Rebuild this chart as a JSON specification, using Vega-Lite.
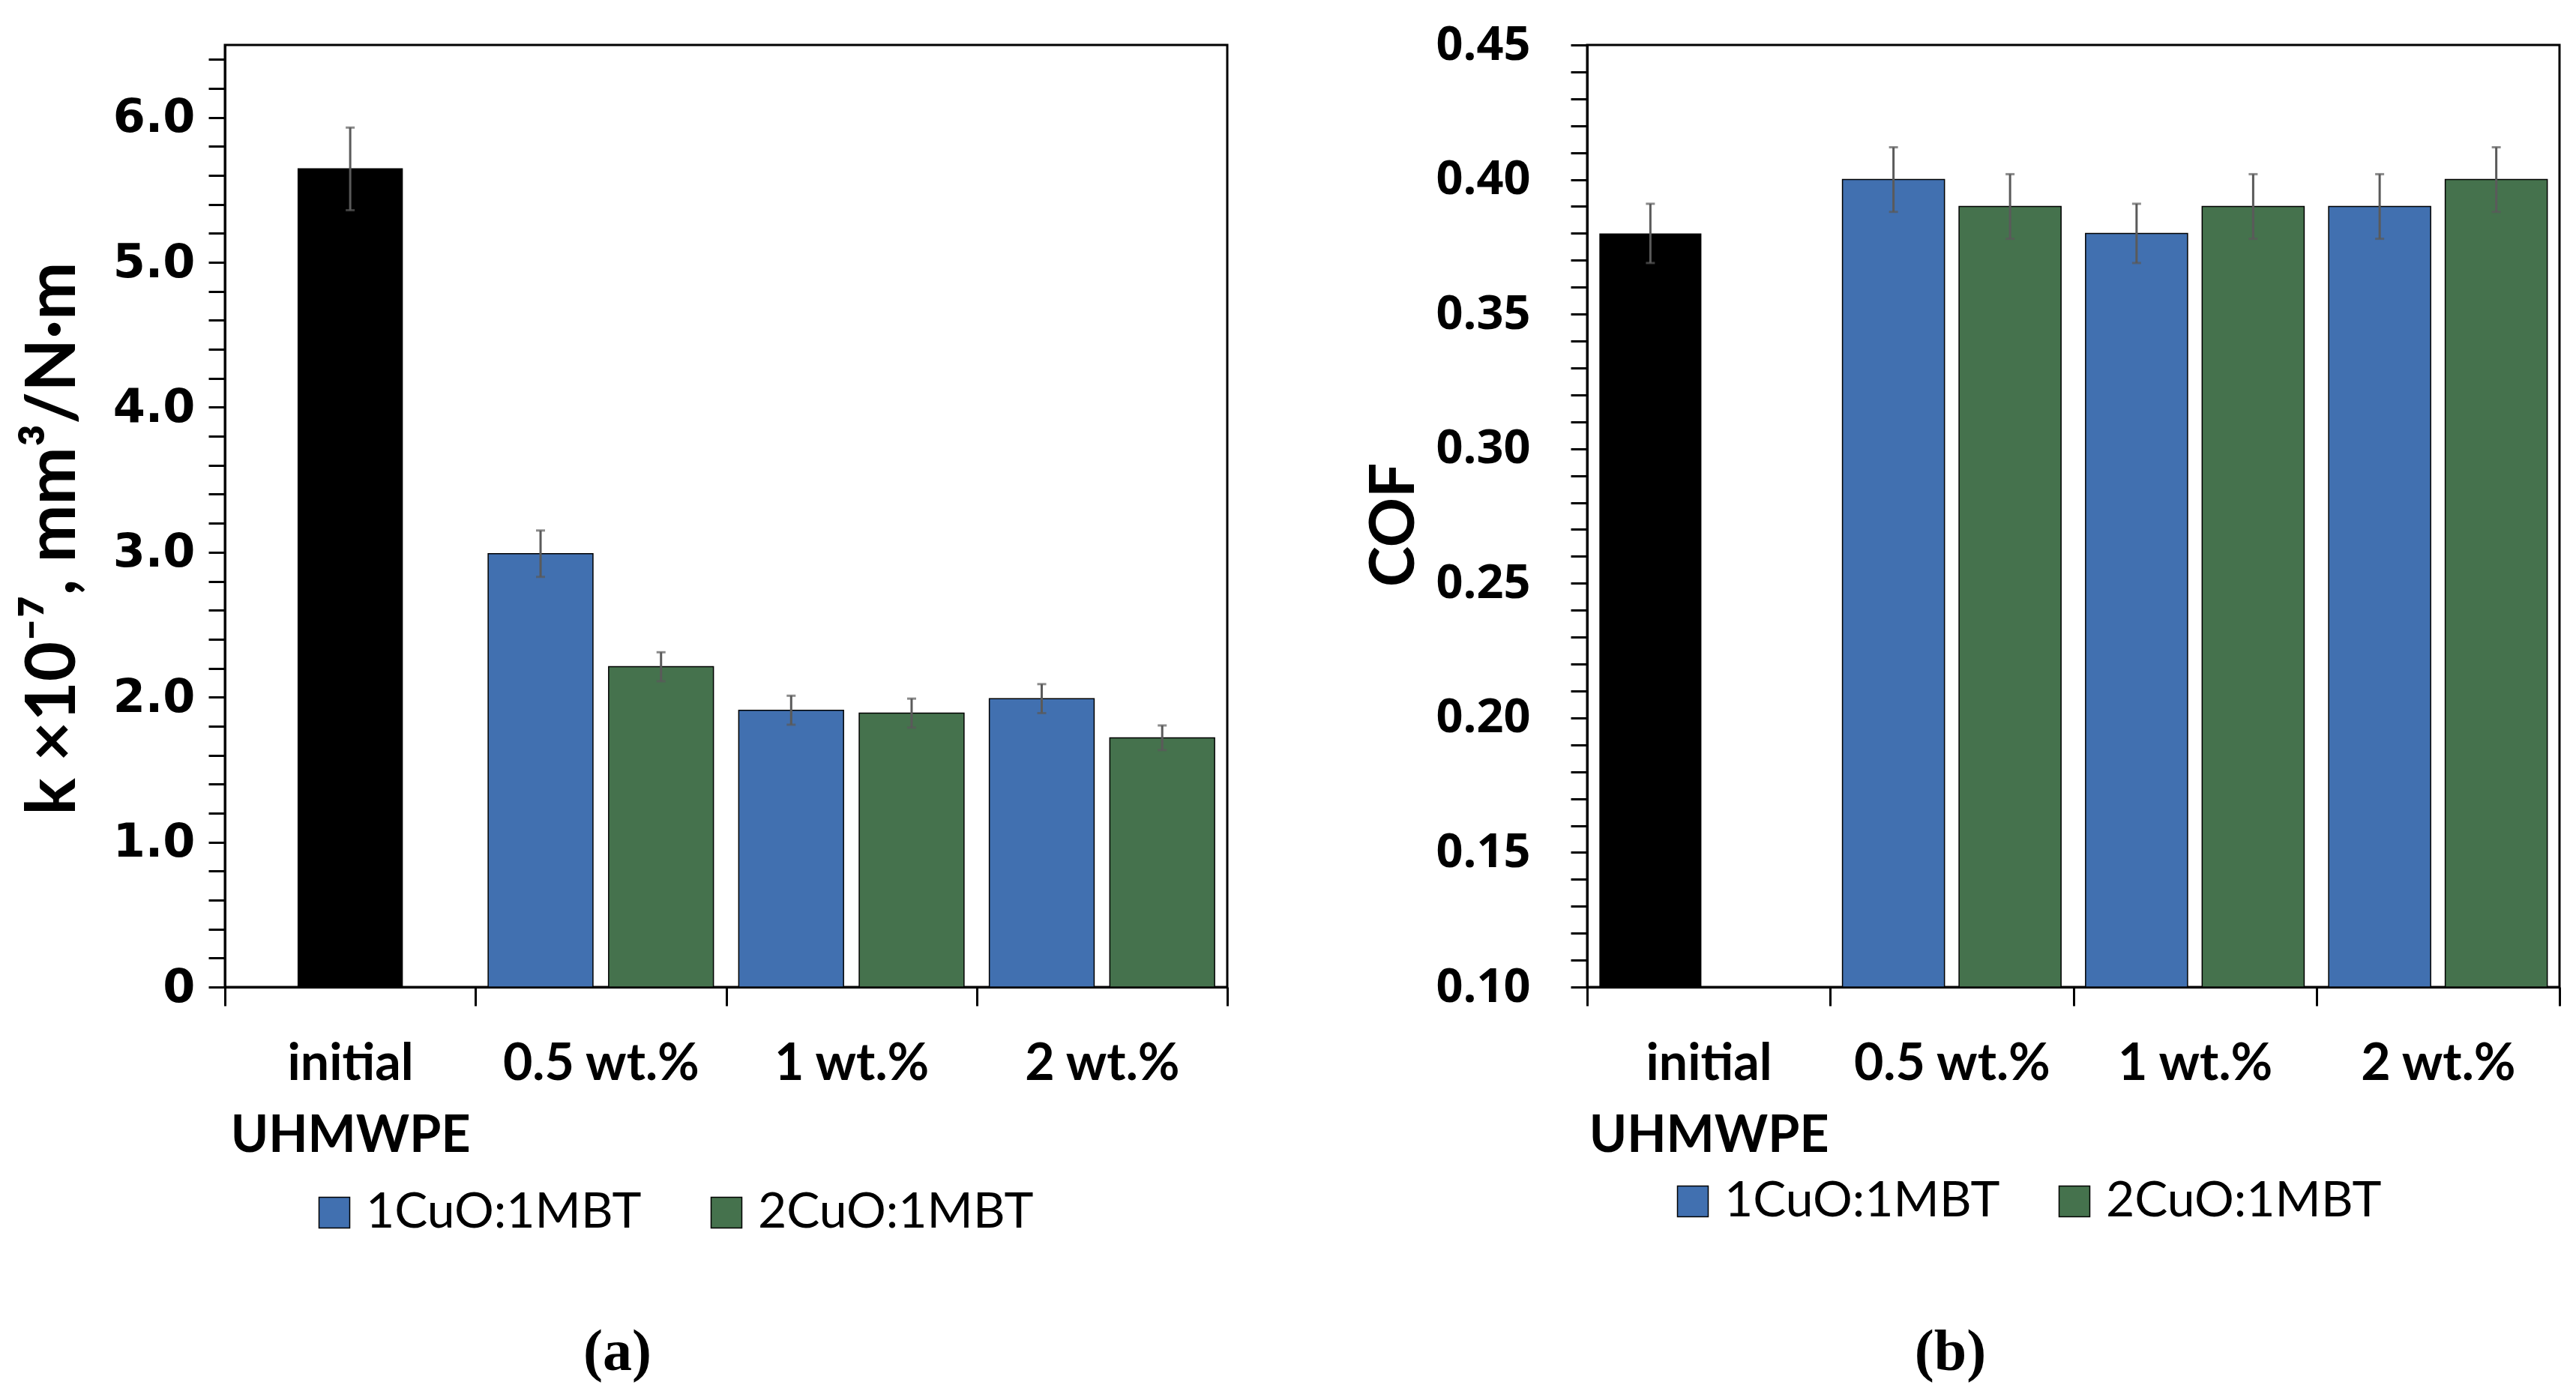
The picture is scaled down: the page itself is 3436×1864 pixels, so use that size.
{
  "$schema": "https://vega.github.io/schema/vega-lite/v6.json",
  "background": "white",
  "padding": {"left": 23, "top": 27, "right": 5, "bottom": 5},
  "bounds": "flush",
  "spacing": 480,
  "config": {
    "view": {"stroke": "black", "strokeWidth": 3},
    "axis": {"domainColor": "black", "domainWidth": 3, "tickColor": "black", "tickWidth": 3, "grid": false, "labelColor": "black", "titleColor": "black", "labelOverlap": false}
  },
  "datasets": {
    "wear": [
      {"cat": "initial UHMWPE", "series": "initial", "value": 5.65, "lo": 5.36, "hi": 5.93},
      {"cat": "0.5 wt.%", "series": "1CuO:1MBT", "value": 2.99, "lo": 2.83, "hi": 3.15},
      {"cat": "0.5 wt.%", "series": "2CuO:1MBT", "value": 2.21, "lo": 2.11, "hi": 2.31},
      {"cat": "1 wt.%", "series": "1CuO:1MBT", "value": 1.91, "lo": 1.81, "hi": 2.01},
      {"cat": "1 wt.%", "series": "2CuO:1MBT", "value": 1.89, "lo": 1.79, "hi": 1.99},
      {"cat": "2 wt.%", "series": "1CuO:1MBT", "value": 1.99, "lo": 1.89, "hi": 2.09},
      {"cat": "2 wt.%", "series": "2CuO:1MBT", "value": 1.72, "lo": 1.635, "hi": 1.805}
    ],
    "cof": [
      {"cat": "initial UHMWPE", "series": "initial", "value": 0.38, "lo": 0.369, "hi": 0.391},
      {"cat": "0.5 wt.%", "series": "1CuO:1MBT", "value": 0.40, "lo": 0.388, "hi": 0.412},
      {"cat": "0.5 wt.%", "series": "2CuO:1MBT", "value": 0.39, "lo": 0.378, "hi": 0.402},
      {"cat": "1 wt.%", "series": "1CuO:1MBT", "value": 0.38, "lo": 0.369, "hi": 0.391},
      {"cat": "1 wt.%", "series": "2CuO:1MBT", "value": 0.39, "lo": 0.378, "hi": 0.402},
      {"cat": "2 wt.%", "series": "1CuO:1MBT", "value": 0.39, "lo": 0.378, "hi": 0.402},
      {"cat": "2 wt.%", "series": "2CuO:1MBT", "value": 0.40, "lo": 0.388, "hi": 0.412}
    ]
  },
  "resolve": {"scale": {"x": "independent", "y": "independent", "color": "independent", "xOffset": "independent"}},
  "hconcat": [
    {
      "width": 1337,
      "height": 1257,
      "data": {"name": "wear"},
      "layer": [
        {
          "transform": [{"filter": "datum.series == 'initial'"}],
          "mark": {"type": "bar", "color": "black", "width": {"band": 0.42}},
          "encoding": {
            "x": {
              "field": "cat", "type": "nominal", "title": "(a)",
              "scale": {"domain": ["initial UHMWPE", "0.5 wt.%", "1 wt.%", "2 wt.%"], "paddingInner": 0, "paddingOuter": 0},
              "axis": {
                "tickBand": "extent", "tickSize": 25, "labelPadding": 44,
                "labelFont": "Lato", "labelFontWeight": "bold", "labelFontSize": 68, "labelAngle": 0,
                "labelLineHeight": 96, "labelLimit": 0,
                "labelExpr": "datum.value == 'initial UHMWPE' ? ['initial', 'UHMWPE'] : datum.value",
                "titleFont": "Liberation Serif", "titleFontWeight": "bold", "titleFontSize": 78,
                "titleX": 523, "titleY": 510, "titleBaseline": "alphabetic", "titleAlign": "center"
              }
            },
            "y": {
              "field": "value", "type": "quantitative", "title": "k ×10⁻⁷, mm³/N·m",
              "scale": {"domain": [0, 6.5], "nice": false, "zero": true},
              "axis": {
                "values": [0, 0.2, 0.4, 0.6, 0.8, 1.0, 1.2, 1.4, 1.6, 1.8, 2.0, 2.2, 2.4, 2.6, 2.8, 3.0, 3.2, 3.4, 3.6, 3.8, 4.0, 4.2, 4.4, 4.6, 4.8, 5.0, 5.2, 5.4, 5.6, 5.8, 6.0, 6.2, 6.4],
                "tickCount": 100,
                "labelExpr": "abs(datum.value - round(datum.value)) < 0.01 ? (datum.value == 0 ? '0' : format(datum.value, '.1f')) : ''",
                "tickSize": 22, "labelPadding": 18,
                "labelFont": "DejaVu Sans", "labelFontWeight": "bold", "labelFontSize": 62,
                "titleFont": "Lato", "titleFontWeight": "bold", "titleFontSize": 92,
                "titleAngle": 270, "titleX": -201, "titleY": 658, "titleBaseline": "alphabetic", "titleAlign": "center"
              }
            }
          }
        },
        {
          "transform": [{"filter": "datum.series != 'initial'"}],
          "mark": {"type": "bar", "stroke": "black", "strokeWidth": 1.5},
          "encoding": {
            "x": {"field": "cat", "type": "nominal", "title": "(a)"},
            "xOffset": {"field": "series", "type": "nominal", "scale": {"domain": ["1CuO:1MBT", "2CuO:1MBT"], "paddingInner": 0.13, "paddingOuter": 0.105}},
            "y": {"field": "value", "type": "quantitative", "title": "k ×10⁻⁷, mm³/N·m"},
            "color": {
              "field": "series", "type": "nominal",
              "scale": {"domain": ["1CuO:1MBT", "2CuO:1MBT"], "range": ["#4170b0", "#45724d"]},
              "legend": {
                "orient": "none", "legendX": 113, "legendY": 1525, "direction": "horizontal", "title": null,
                "symbolType": "square", "symbolSize": 1681, "symbolStrokeColor": "black", "symbolStrokeWidth": 1.5,
                "labelFont": "Lato", "labelFontSize": 66, "labelColor": "black", "labelOffset": 9, "columnPadding": 80,
                "padding": 0, "labelLimit": 0
              }
            }
          }
        },
        {
          "transform": [{"filter": "datum.series == 'initial'"}],
          "mark": {"type": "rule", "color": "#5a5a5a", "strokeWidth": 3},
          "encoding": {
            "x": {"field": "cat", "type": "nominal", "title": "(a)"},
            "y": {"field": "lo", "type": "quantitative", "title": "k ×10⁻⁷, mm³/N·m"},
            "y2": {"field": "hi"}
          }
        },
        {
          "transform": [{"filter": "datum.series == 'initial'"}],
          "mark": {"type": "tick", "color": "#5a5a5a", "size": 12, "thickness": 3, "orient": "horizontal"},
          "encoding": {
            "x": {"field": "cat", "type": "nominal", "title": "(a)"},
            "y": {"field": "lo", "type": "quantitative", "title": "k ×10⁻⁷, mm³/N·m"}
          }
        },
        {
          "transform": [{"filter": "datum.series == 'initial'"}],
          "mark": {"type": "tick", "color": "#5a5a5a", "size": 12, "thickness": 3, "orient": "horizontal"},
          "encoding": {
            "x": {"field": "cat", "type": "nominal", "title": "(a)"},
            "y": {"field": "hi", "type": "quantitative", "title": "k ×10⁻⁷, mm³/N·m"}
          }
        },
        {
          "transform": [{"filter": "datum.series != 'initial'"}],
          "mark": {"type": "rule", "color": "#5a5a5a", "strokeWidth": 3},
          "encoding": {
            "x": {"field": "cat", "type": "nominal", "title": "(a)"},
            "xOffset": {"field": "series", "type": "nominal"},
            "y": {"field": "lo", "type": "quantitative", "title": "k ×10⁻⁷, mm³/N·m"},
            "y2": {"field": "hi"}
          }
        },
        {
          "transform": [{"filter": "datum.series != 'initial'"}],
          "mark": {"type": "tick", "color": "#5a5a5a", "size": 12, "thickness": 3, "orient": "horizontal"},
          "encoding": {
            "x": {"field": "cat", "type": "nominal", "title": "(a)"},
            "xOffset": {"field": "series", "type": "nominal"},
            "y": {"field": "lo", "type": "quantitative", "title": "k ×10⁻⁷, mm³/N·m"}
          }
        },
        {
          "transform": [{"filter": "datum.series != 'initial'"}],
          "mark": {"type": "tick", "color": "#5a5a5a", "size": 12, "thickness": 3, "orient": "horizontal"},
          "encoding": {
            "x": {"field": "cat", "type": "nominal", "title": "(a)"},
            "xOffset": {"field": "series", "type": "nominal"},
            "y": {"field": "hi", "type": "quantitative", "title": "k ×10⁻⁷, mm³/N·m"}
          }
        }
      ]
    },
    {
      "width": 1297,
      "height": 1257,
      "data": {"name": "cof"},
      "layer": [
        {
          "transform": [{"filter": "datum.series == 'initial'"}],
          "mark": {"type": "bar", "color": "black"},
          "encoding": {
            "x": {
              "field": "cat", "type": "nominal", "title": "(b)",
              "scale": {"domain": ["initial UHMWPE", "0.5 wt.%", "1 wt.%", "2 wt.%"], "paddingInner": 0, "paddingOuter": 0},
              "axis": {
                "tickBand": "extent", "tickSize": 25, "labelPadding": 44,
                "labelFont": "Lato", "labelFontWeight": "bold", "labelFontSize": 68, "labelAngle": 0,
                "labelLineHeight": 96, "labelLimit": 0,
                "labelExpr": "datum.value == 'initial UHMWPE' ? ['initial', 'UHMWPE'] : datum.value",
                "titleFont": "Liberation Serif", "titleFontWeight": "bold", "titleFontSize": 78,
                "titleX": 484, "titleY": 510, "titleBaseline": "alphabetic", "titleAlign": "center"
              }
            },
            "xOffset": {"datum": "1CuO:1MBT"},
            "y": {
              "field": "value", "type": "quantitative", "title": "COF",
              "scale": {"domain": [0.1, 0.45], "nice": false, "zero": false},
              "axis": {
                "values": [0.10, 0.11, 0.12, 0.13, 0.14, 0.15, 0.16, 0.17, 0.18, 0.19, 0.20, 0.21, 0.22, 0.23, 0.24, 0.25, 0.26, 0.27, 0.28, 0.29, 0.30, 0.31, 0.32, 0.33, 0.34, 0.35, 0.36, 0.37, 0.38, 0.39, 0.40, 0.41, 0.42, 0.43, 0.44, 0.45],
                "tickCount": 100,
                "labelExpr": "abs(datum.value * 20 - round(datum.value * 20)) < 0.01 ? format(datum.value, '.2f') : ''",
                "tickSize": 22, "labelPadding": 54,
                "labelFont": "Open Sans", "labelFontWeight": "bold", "labelFontSize": 63,
                "titleFont": "Lato", "titleFontWeight": "bold", "titleFontSize": 82,
                "titleAngle": 270, "titleX": -232, "titleY": 640, "titleBaseline": "alphabetic", "titleAlign": "center"
              }
            },
            "y2": {"datum": 0.1}
          }
        },
        {
          "transform": [{"filter": "datum.series != 'initial'"}],
          "mark": {"type": "bar", "stroke": "black", "strokeWidth": 1.5},
          "encoding": {
            "x": {"field": "cat", "type": "nominal", "title": "(b)"},
            "xOffset": {"field": "series", "type": "nominal", "scale": {"domain": ["1CuO:1MBT", "2CuO:1MBT"], "paddingInner": 0.125, "paddingOuter": 0.105}},
            "y": {"field": "value", "type": "quantitative", "title": "COF"},
            "y2": {"datum": 0.1},
            "color": {
              "field": "series", "type": "nominal",
              "scale": {"domain": ["1CuO:1MBT", "2CuO:1MBT"], "range": ["#4170b0", "#45724d"]},
              "legend": {
                "orient": "none", "legendX": 108, "legendY": 1510, "direction": "horizontal", "title": null,
                "symbolType": "square", "symbolSize": 1681, "symbolStrokeColor": "black", "symbolStrokeWidth": 1.5,
                "labelFont": "Lato", "labelFontSize": 66, "labelColor": "black", "labelOffset": 9, "columnPadding": 66,
                "padding": 0, "labelLimit": 0
              }
            }
          }
        },
        {
          "transform": [{"filter": "datum.series == 'initial'"}],
          "mark": {"type": "rule", "color": "#5a5a5a", "strokeWidth": 3},
          "encoding": {
            "x": {"field": "cat", "type": "nominal", "title": "(b)"},
            "xOffset": {"datum": "1CuO:1MBT"},
            "y": {"field": "lo", "type": "quantitative", "title": "COF"},
            "y2": {"field": "hi"}
          }
        },
        {
          "transform": [{"filter": "datum.series == 'initial'"}],
          "mark": {"type": "tick", "color": "#5a5a5a", "size": 12, "thickness": 3, "orient": "horizontal"},
          "encoding": {
            "x": {"field": "cat", "type": "nominal", "title": "(b)"},
            "xOffset": {"datum": "1CuO:1MBT"},
            "y": {"field": "lo", "type": "quantitative", "title": "COF"}
          }
        },
        {
          "transform": [{"filter": "datum.series == 'initial'"}],
          "mark": {"type": "tick", "color": "#5a5a5a", "size": 12, "thickness": 3, "orient": "horizontal"},
          "encoding": {
            "x": {"field": "cat", "type": "nominal", "title": "(b)"},
            "xOffset": {"datum": "1CuO:1MBT"},
            "y": {"field": "hi", "type": "quantitative", "title": "COF"}
          }
        },
        {
          "transform": [{"filter": "datum.series != 'initial'"}],
          "mark": {"type": "rule", "color": "#5a5a5a", "strokeWidth": 3},
          "encoding": {
            "x": {"field": "cat", "type": "nominal", "title": "(b)"},
            "xOffset": {"field": "series", "type": "nominal"},
            "y": {"field": "lo", "type": "quantitative", "title": "COF"},
            "y2": {"field": "hi"}
          }
        },
        {
          "transform": [{"filter": "datum.series != 'initial'"}],
          "mark": {"type": "tick", "color": "#5a5a5a", "size": 12, "thickness": 3, "orient": "horizontal"},
          "encoding": {
            "x": {"field": "cat", "type": "nominal", "title": "(b)"},
            "xOffset": {"field": "series", "type": "nominal"},
            "y": {"field": "lo", "type": "quantitative", "title": "COF"}
          }
        },
        {
          "transform": [{"filter": "datum.series != 'initial'"}],
          "mark": {"type": "tick", "color": "#5a5a5a", "size": 12, "thickness": 3, "orient": "horizontal"},
          "encoding": {
            "x": {"field": "cat", "type": "nominal", "title": "(b)"},
            "xOffset": {"field": "series", "type": "nominal"},
            "y": {"field": "hi", "type": "quantitative", "title": "COF"}
          }
        }
      ]
    }
  ]
}
